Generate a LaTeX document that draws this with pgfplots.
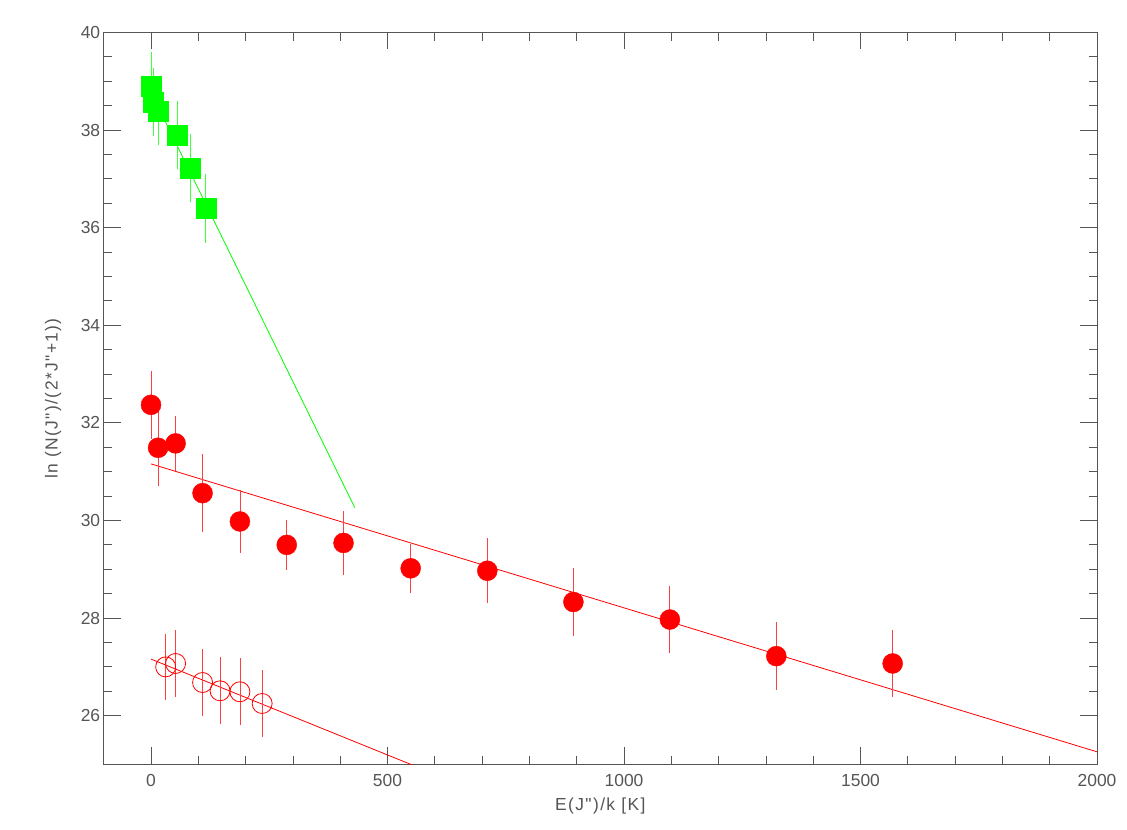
\documentclass[border=0pt]{standalone}
\usepackage{fontspec}
\setmainfont{Liberation Sans}
\newfontfamily\lib{Liberation Sans}
\newfontfamily\libw{Liberation Sans}[LetterSpace=8]
\usepackage{pgfplots}
\usepackage{pgfplotstable}
\pgfplotsset{compat=1.18}
\definecolor{ax}{HTML}{555555}
\definecolor{gr}{HTML}{00FF00}
\definecolor{rd}{HTML}{FF0000}
\pgfplotstableread{
x y e
0 38.89 0.70
5 38.58 0.70
16 38.39 0.70
55 37.90 0.70
83 37.22 0.70
116 36.39 0.70
}\green
\pgfplotstableread{
x y e
0 32.37 0.70
15 31.49 0.78
52 31.58 0.56
109 30.56 0.80
188 29.98 0.65
287 29.50 0.52
407 29.54 0.66
549 29.02 0.50
711 28.97 0.67
893 28.33 0.69
1097 27.97 0.69
1322 27.22 0.69
1568 27.07 0.69
}\redfull
\pgfplotstableread{
x y e
31 27.00 0.68
52 27.07 0.69
109 26.68 0.69
146 26.51 0.69
188 26.49 0.69
235 26.25 0.69
}\redopen
\begin{document}
\begin{tikzpicture}[x=1bp,y=1bp]
\useasboundingbox (0,0) rectangle (1127,830);
\begin{axis}[
 at={(103.7bp,65.5bp)}, anchor=south west,
 scale only axis, width=993.3bp, height=732bp,
 xmin=-100, xmax=2000, ymin=25, ymax=40,
 xtick={0,500,...,2000}, ytick={26,28,...,40},
 minor x tick num=4, minor y tick num=3,
 tick align=inside,
 major tick length=17bp, minor tick length=8.5bp,
 axis line style={ax, line width=0.8bp},
 every tick/.style={ax, line width=0.8bp},
 tick label style={font=\lib\fontsize{17.5}{21}\selectfont, text=ax, /pgf/number format/assume math mode=true},
 /pgf/number format/1000 sep={},
 xticklabel style={yshift=-6.5bp},
 label style={font=\libw\fontsize{17.5}{21}\selectfont, text=ax},
 xlabel={E(J")/k [K]},
 ylabel={ln (N(J")/(2*J"+1))},
 xlabel style={at={(axis description cs:0.5,-0.0567)}, anchor=center},
 ylabel style={at={(axis description cs:-0.051,0.5)}, anchor=center},
]
\addplot[gr, line width=0.8bp] coordinates {(0,38.77) (431,30.26)};
\addplot[rd, line width=0.8bp] coordinates {(0,31.16) (2000,25.26)};
\addplot[rd, line width=0.8bp] coordinates {(0,27.16) (560,24.96)};
\addplot[only marks, mark=square*, mark size=10bp, mark options={gr, fill=gr},
  error bars/.cd, y dir=both, y explicit, error mark=none,
  error bar style={gr!75, line width=0.8bp}]
  table[x=x, y=y, y error=e] {\green};
\addplot[only marks, mark=*, mark size=10bp, mark options={rd, fill=rd},
  error bars/.cd, y dir=both, y explicit, error mark=none,
  error bar style={rd!75, line width=0.8bp}]
  table[x=x, y=y, y error=e] {\redfull};
\addplot[only marks, mark=o, mark size=10bp, mark options={rd, line width=0.8bp},
  error bars/.cd, y dir=both, y explicit, error mark=none,
  error bar style={rd!75, line width=0.8bp}]
  table[x=x, y=y, y error=e] {\redopen};
\end{axis}
\end{tikzpicture}
\end{document}
